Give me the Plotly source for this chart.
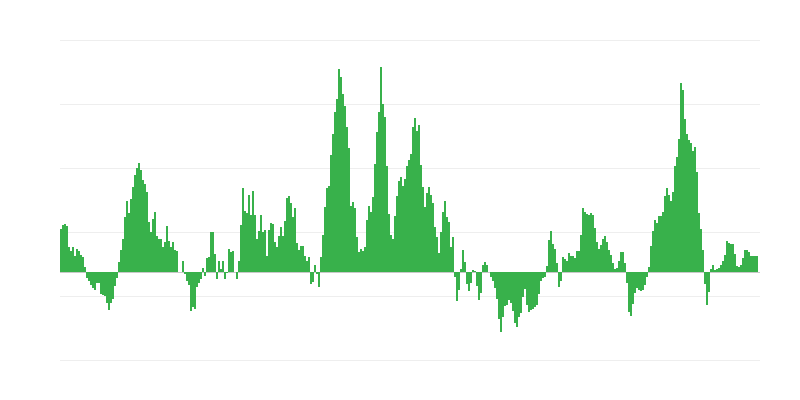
import plotly.graph_objects as go

# values, one per ~2px column (pixel-ish units, 0 = baseline)
values = [
    43.5, 47, 48, 46, 25, 21.5, 25, 16, 23, 21, 17.5, 15, 5.5, -5.5, -9, -13, -16, -18, -11, -10.5,
    -21.5, -22.5, -24, -31, -37.5, -31, -26.5, -13.5, -6, 10, 22, 33, 55, 71, 59, 73, 85, 97, 104, 109,
    102, 92, 88, 80, 50, 40, 53, 60, 36, 33, 33, 25, 30, 46.5, 31.5, 25, 30.5, 22, 21.5, 0,
    0, 11, -2, -8.5, -12.5, -38.5, -35, -37, -15, -11, -7, 4, -4, 14, 15.5, 40, 40, 18, -7, 11,
    3, 11.5, -6.5, -1, 23, 20, 21, 0, -6.5, 11.5, 47.5, 84, 61, 59, 77.5, 57.5, 81.5, 57.5, 33.5, 41.5,
    57.5, 40, 42, 16.5, 42, 49, 48, 30, 25, 36, 45, 36, 51, 74, 76, 69, 55, 64, 29, 22,
    26.5, 26.5, 16, 11, 15.5, -12, -10, 7.5, -2, -15, 15.5, 37.5, 65, 84, 86, 117, 138, 160, 173, 203,
    195, 178, 166, 145, 124, 66.5, 70, 64, 35, 20, 23, 21, 25, 52, 66, 60, 75, 108, 140, 160,
    205, 168, 155, 106, 58, 37, 33, 56, 76, 91, 95, 86.5, 93, 106, 112, 118, 145, 154, 141.5, 147.5,
    107.5, 85.5, 65, 79, 85, 77.5, 69, 45.5, 35.5, 19, 40, 60, 71.5, 55.5, 50, 25, 35, -4.5, -28.5, -18,
    3.5, 22.5, 10, -12, -18.5, -11, 2, 1, -14, -28, -21, 7, 10, 7, 0, -5, -9, -16, -27, -47,
    -60, -45, -34, -33, -28, -31, -39, -51, -55, -45, -41, -25, -17, -33, -40, -38, -36.5, -35, -32.5, -22,
    -9, -5.5, -4.5, 6, 32.5, 41.5, 28, 23, 9, -15, -8.5, 15.5, 13, 11.5, 19, 16.5, 16.5, 14, 21.5, 21.5,
    37, 64, 60, 58, 57, 59, 57, 44, 30, 23, 27, 33, 36, 30, 22, 17, 9, 3, 4.5, 11,
    20, 20, 9, -11, -40, -44, -32, -21, -16, -17.5, -19, -18, -13, -5, 5, 26.5, 41, 52, 49, 56,
    56, 60.5, 76.5, 84.5, 77, 71, 80, 106.5, 115, 133, 189, 182.5, 153, 138, 132.5, 129, 121.5, 125, 100, 59,
    43, 22, -12, -33, -20, 3, 7, 2, 3, 4, 7, 11.5, 17, 31.5, 29, 28, 28.5, 18, 6, 5,
    7.5, 14, 22.5, 22.5, 20, 16.5, 16, 16.5, 16.5,
]
periods = list(range(len(values)))
grid_vals = [-88.5, -24.5, 39.5, 103.5, 167.5, 231.5]

fig = go.Figure()
fig.add_trace(go.Bar(x=periods, y=values, marker=dict(color="#38b14b", line=dict(width=0))))

# page body adds ~8px, so margins are trimmed to land the plot at x 60-760, y 40-360
fig.update_layout(
    width=800, height=400,
    margin=dict(l=52, r=48, t=31, b=46),
    paper_bgcolor="white", plot_bgcolor="white",
    bargap=0, showlegend=False,
    xaxis=dict(range=[-0.5, 349.5], showgrid=False, zeroline=False,
               showticklabels=False, ticks=""),
    yaxis=dict(range=[-90, 233], tickvals=grid_vals, showticklabels=False,
               gridcolor="#eeeeee", gridwidth=1,
               zeroline=True, zerolinecolor="#c8c8c8", zerolinewidth=1),
)

fig.write_html("out.html")
